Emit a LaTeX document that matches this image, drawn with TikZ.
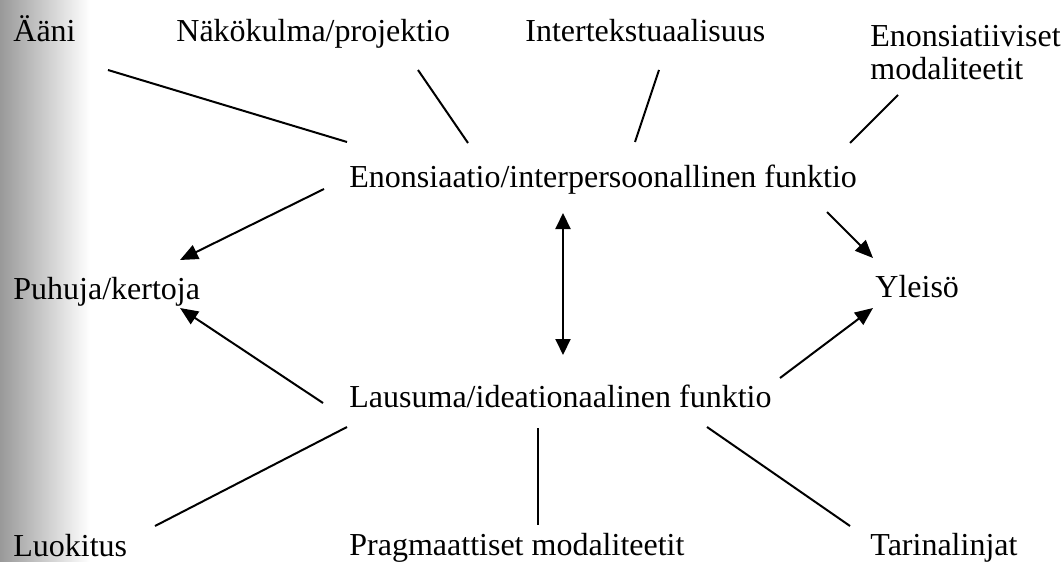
\documentclass[tikz,border=0pt]{standalone}
\usepackage{fontspec}
\setmainfont{Liberation Serif}
\usetikzlibrary{arrows.meta}

\begin{document}
\begin{tikzpicture}[x=0.5pt,y=-0.5pt,
  lbl/.style={anchor=base west,inner sep=0pt,font=\fontsize{16}{16.5}\selectfont},
  viiva/.style={line width=1pt},
  nuoli/.style={viiva,-{Triangle[length=9pt,width=7.5pt]}},
  kaksi/.style={viiva,{Triangle[length=8pt,width=7.5pt]}-{Triangle[length=8pt,width=7.5pt]}}]
\useasboundingbox (0,0) rectangle (1063,561);
% scanned page edge
\shade[left color=black!40,right color=white,draw=none] (0,0) rectangle (90,561);
\node [lbl] (aani) at (13,42) {Ääni};
\node [lbl] (nako) at (176,42) {Näkökulma/projektio};
\node [lbl] (inter) at (525,42) {Intertekstuaalisuus};
\node [lbl,align=left] (enmod) at (870,80) {Enonsiatiiviset\\modaliteetit};
\node [lbl] (enon) at (349,188) {Enonsiaatio/interpersoonallinen funktio};
\node [lbl] (puhuja) at (13,299) {Puhuja/kertoja};
\node [lbl] (yleiso) at (875,297) {Yleisö};
\node [lbl] (lausuma) at (349,407) {Lausuma/ideationaalinen funktio};
\node [lbl] (luok) at (13,556) {Luokitus};
\node [lbl] (prag) at (349,555) {Pragmaattiset modaliteetit};
\node [lbl] (tarina) at (870,555) {Tarinalinjat};

\draw [viiva] ([shift={(95,28)}]aani.base west) -- ([shift={(-2,-46)}]enon.base west);
\draw [viiva] ([shift={(242,28)}]nako.base west) -- ([shift={(119,-45)}]enon.base west);
\draw [viiva] ([shift={(134,28)}]inter.base west) -- ([shift={(286,-46)}]enon.base west);
\draw [viiva] ([shift={(28,15)}]enmod.base west) -- ([shift={(501,-45)}]enon.base west);

\draw [nuoli] ([shift={(-25,1)}]enon.base west) -- ([shift={(167,-39)}]puhuja.base west);
\draw [nuoli] ([shift={(478,24)}]enon.base west) -- ([shift={(-2,-39)}]yleiso.base west);
\draw [kaksi] ([shift={(214,25)}]enon.base west) -- ([shift={(214,-52)}]lausuma.base west);
\draw [nuoli] ([shift={(-26,-4)}]lausuma.base west) -- ([shift={(167,9)}]puhuja.base west);
\draw [nuoli] ([shift={(431,-29)}]lausuma.base west) -- ([shift={(-2,11)}]yleiso.base west);

\draw [viiva] ([shift={(-2,20)}]lausuma.base west) -- ([shift={(142,-30)}]luok.base west);
\draw [viiva] ([shift={(189,21)}]lausuma.base west) -- ([shift={(189,-30)}]prag.base west);
\draw [viiva] ([shift={(358,20)}]lausuma.base west) -- ([shift={(-20,-29)}]tarina.base west);
\end{tikzpicture}
\end{document}
